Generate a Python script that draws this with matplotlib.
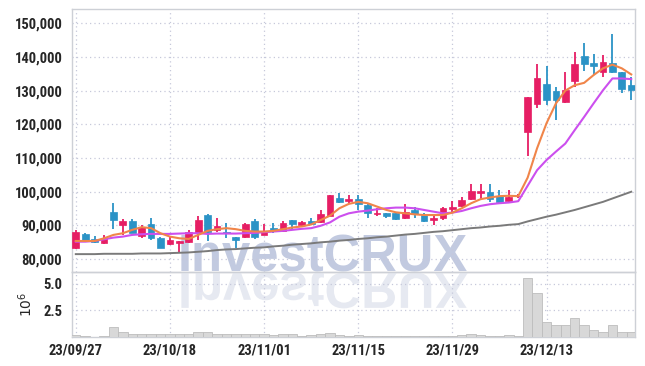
import matplotlib
matplotlib.use('Agg')
import matplotlib.pyplot as plt
from matplotlib import font_manager
from matplotlib.patches import PathPatch
from matplotlib.textpath import TextPath
from matplotlib.font_manager import FontProperties
from matplotlib.transforms import Affine2D

# trading days (Korean market, holidays skipped)
dates = ('23/09/27 23/10/04 23/10/05 23/10/06 23/10/10 23/10/11 23/10/12 23/10/13 23/10/16 23/10/17 '
         '23/10/18 23/10/19 23/10/20 23/10/23 23/10/24 23/10/25 23/10/26 23/10/27 23/10/30 23/10/31 '
         '23/11/01 23/11/02 23/11/03 23/11/06 23/11/07 23/11/08 23/11/09 23/11/10 23/11/13 23/11/14 '
         '23/11/15 23/11/16 23/11/17 23/11/20 23/11/21 23/11/22 23/11/23 23/11/24 23/11/27 23/11/28 '
         '23/11/29 23/11/30 23/12/01 23/12/04 23/12/05 23/12/06 23/12/07 23/12/08 23/12/11 23/12/12 '
         '23/12/13 23/12/14 23/12/15 23/12/18 23/12/19 23/12/20 23/12/21 23/12/22 23/12/26 23/12/27').split()

opens = [83300, 87500, 85900, 84800, 93900, 90000, 91300, 87000, 90400, 86400,
         84500, 84800, 85200, 87700, 93100, 88700, 88200, 86700, 86700, 91400,
         87200, 89200, 88400, 91600, 90200, 91300, 91100, 92900, 98000, 97200,
         97900, 96100, 93300, 93800, 93800, 92300, 94600, 93100, 91600, 92300,
         94800, 95900, 97900, 99700, 99900, 98800, 97300, 98600, 117800, 125900,
         131900, 129800, 126500, 132900, 140200, 138100, 135400, 138100, 135400, 131600]
highs = [88700, 87900, 87000, 87200, 96600, 91900, 91900, 90100, 92100, 86700,
         87000, 85500, 88700, 92800, 93400, 92100, 90800, 86700, 90700, 92000,
         90400, 90600, 91300, 91700, 91300, 92200, 94600, 99100, 99600, 99000,
         99000, 96600, 95100, 93800, 93900, 96300, 95600, 93800, 93100, 95600,
         97300, 98500, 102300, 102300, 102300, 100500, 100500, 99200, 128000, 138000,
         137200, 131100, 135500, 141500, 144100, 141000, 140700, 146700, 135400, 134100]
lows = [83000, 85000, 84700, 84600, 89000, 87200, 87700, 86300, 85700, 83200,
        84200, 82000, 84900, 85700, 85300, 88200, 86200, 83400, 86300, 85900,
        87100, 87800, 88200, 89000, 89800, 90100, 90600, 92800, 96600, 96600,
        94600, 92300, 92800, 92100, 91700, 91900, 92300, 91000, 90200, 91700,
        93900, 95600, 97600, 97600, 97000, 96300, 96700, 98200, 110600, 124700,
        125700, 121300, 126400, 131100, 135800, 134600, 134100, 135300, 129200, 127200]
closes = [88000, 85400, 85100, 86400, 91700, 91300, 87900, 89600, 86200, 83400,
          85700, 85300, 88200, 91600, 88200, 89800, 87800, 85700, 90400, 86700,
          88000, 88400, 90800, 90400, 91000, 90400, 93400, 99000, 96900, 97900,
          96300, 93600, 93800, 92900, 91900, 94100, 93300, 91400, 92300, 95100,
          95600, 97600, 100100, 100100, 97900, 96900, 98400, 98800, 128000, 133600,
          127200, 127100, 130100, 138000, 138000, 137300, 138400, 135500, 130500, 130100]

ma_short = [85400, 85400, 85400, 86200, 87200, 87700, 88700, 89500, 89200, 87700,
            86700, 86200, 86000, 87200, 88400, 88900, 89200, 88900, 88400, 88200,
            88200, 88400, 88900, 89400, 89700, 90300, 91600, 92900, 95100, 96400,
            97000, 96600, 95600, 94600, 93900, 93600, 93300, 93100, 93100, 93100,
            93800, 95100, 96600, 97800, 98300, 98700, 98800, 98700, 104200, 112900,
            120300, 126200, 130000, 131600, 132300, 134600, 136600, 137700, 136600, 134800]
ma_mid = [85200, 85200, 85400, 85900, 86400, 86700, 87200, 87400, 87500, 87500,
          87500, 87600, 87700, 87700, 87500, 87600, 87600, 87600, 87700, 87800,
          88000, 88200, 88400, 88700, 89000, 89200, 89900, 90900, 92600, 93600,
          94100, 94400, 94800, 95100, 95300, 95300, 95100, 94600, 94100, 93600,
          93800, 94300, 95100, 95800, 96300, 96600, 96800, 97200, 101800, 106400,
          109400, 111900, 114300, 118300, 122200, 126200, 130100, 133600, 133600, 133400]
ma_long = [81500, 81500, 81500, 81600, 81600, 81600, 81600, 81700, 81700, 81700,
           81800, 81900, 82000, 82200, 82400, 82700, 82900, 83000, 83200, 83400,
           83500, 83800, 84000, 84300, 84500, 84700, 85000, 85200, 85500, 85700,
           86000, 86200, 86500, 86700, 87000, 87300, 87500, 87800, 88100, 88300,
           88600, 88900, 89200, 89400, 89700, 89900, 90200, 90400, 91200, 91900,
           92600, 93200, 93900, 94600, 95400, 96200, 97000, 98000, 99000, 100000]

volume_m = [0.15, 0.08, 0.02, 0.08, 0.95, 0.45, 0.30, 0.25, 0.30, 0.25,
            0.30, 0.25, 0.30, 0.50, 0.45, 0.30, 0.28, 0.30, 0.25, 0.30,
            0.25, 0.15, 0.25, 0.25, 0.10, 0.15, 0.30, 0.38, 0.15, 0.10,
            0.15, 0.10, 0.05, 0.05, 0.05, 0.10, 0.05, 0.05, 0.05, 0.10,
            0.10, 0.15, 0.30, 0.15, 0.10, 0.10, 0.15, 0.05, 5.50, 4.10,
            1.45, 1.15, 1.15, 1.80, 1.15, 0.70, 0.50, 1.15, 0.50, 0.50]

tick_dates = ['23/09/27', '23/10/18', '23/11/01', '23/11/15', '23/11/29', '23/12/13']
price_ticks = [80000, 90000, 100000, 110000, 120000, 130000, 140000, 150000]
vol_ticks = [2.5, 5.0]

UP = '#e61e64'
DOWN = '#2b93c6'
GRID = '#c6c8da'
FRAME = '#cdd0d6'
TXT = '#262626'

available = {f.name for f in font_manager.fontManager.ttflist}
tick_font = 'Liberation Sans'
for cand in ['Roboto Condensed', 'Liberation Sans Narrow', 'Open Sans Condensed']:
    if cand in available:
        tick_font = cand
        break
plt.rcParams['font.family'] = [tick_font, 'DejaVu Sans']

fig = plt.figure(figsize=(6.45, 3.66), dpi=100)
W, H = 645, 366
L, R = 72 / W, 635 / W
ax = fig.add_axes([L, 1 - 272 / H, R - L, (272 - 9) / H])
vax = fig.add_axes([L, 1 - 337 / H, R - L, (337 - 272) / H], sharex=ax)

x = list(range(len(dates)))
up = [c >= o for o, c in zip(opens, closes)]
colors = [UP if u else DOWN for u in up]

# watermark + its reflection in the volume panel
ax.text(178 / W, 1 - 271 / H, 'InvestCRUX', transform=fig.transFigure,
        fontsize=36.5, fontweight='bold', family='Liberation Sans',
        color='#c2cae0', zorder=0.5, va='baseline', ha='left')
tp = TextPath((0, 0), 'InvestCRUX', size=36.5,
              prop=FontProperties(family='Liberation Sans', weight='bold'))
mirror = PathPatch(tp, facecolor='#e6e9f1', edgecolor='none', zorder=0.5,
                   transform=Affine2D().scale(1 / 72, -1 / 72).translate(178 / 100, (H - 273) / 100)
                   + fig.dpi_scale_trans)
mirror.set_clip_box(vax.bbox)
vax.add_artist(mirror)

# candles
ax.vlines(x, lows, highs, colors=colors, linewidth=1.3, zorder=3)
bottoms = [min(o, c) for o, c in zip(opens, closes)]
heights = [max(abs(c - o), 250) for o, c in zip(opens, closes)]
ax.bar(x, heights, bottom=bottoms, width=0.72, color=colors, edgecolor=colors,
       linewidth=0.5, zorder=4)

ax.plot(x, ma_long, color='#7a7a7a', linewidth=1.4, zorder=5)
ax.plot(x, ma_mid, color='#cc4fee', linewidth=1.5, zorder=5)
ax.plot(x, ma_short, color='#f0854a', linewidth=1.5, zorder=5)

vax.bar(x, volume_m, width=1.0, color='#d8d8d8', edgecolor='#bdbdbd', linewidth=0.6, zorder=3)

ax.set_xlim(-0.4, 59.4)
ax.set_ylim(76200, 154200)
vax.set_ylim(0, 6.1)

tick_pos = [dates.index(d) for d in tick_dates]
for a in (ax, vax):
    a.set_xticks(tick_pos)
    a.grid(True, linestyle=(0, (1, 2.5)), color=GRID, linewidth=0.9, zorder=1)
    a.set_axisbelow(True)
    a.set_facecolor('none')
    for s in a.spines.values():
        s.set_color(FRAME)
        s.set_linewidth(1.0)
    a.tick_params(length=0, colors=TXT, labelsize=10.5, pad=7)

ax.set_yticks(price_ticks)
ax.set_yticklabels([f'{v:,}' for v in price_ticks], fontweight='bold')
ax.tick_params(labelbottom=False)

vax.set_yticks(vol_ticks)
vax.set_yticklabels([f'{v:.1f}' for v in vol_ticks], fontweight='bold')
vax.set_xticklabels(tick_dates, fontweight='bold')
vax.tick_params(axis='x', pad=5)
vax.set_ylabel('$10^{6}$', fontsize=10, color=TXT)
vax.yaxis.set_label_coords(-0.066, 0.5)

fig.savefig('out.png', dpi=100)
